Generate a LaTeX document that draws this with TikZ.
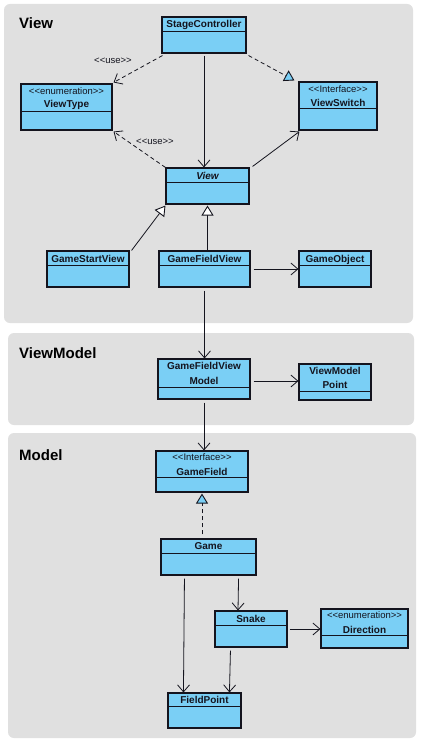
\documentclass[tikz,border=0pt]{standalone}
\usepackage{fontspec}
\setmainfont{Liberation Sans}
\usetikzlibrary{arrows.meta,fit,calc}
\definecolor{boxblue}{RGB}{122,207,245}
\definecolor{panelgray}{RGB}{224,224,224}
\definecolor{ink}{RGB}{20,20,30}
\newcommand\stl{<{}<}
\newcommand\stg{>{}>}
\newcommand\mkclass[6]{%
  \node[classbox, fit={(#2,#3) (#4,#5)}] (#1) {};
  \draw[divider] (#2,#6) -- (#4,#6);}
\tikzset{
  panel/.style={fill=panelgray, draw=none, rounded corners=6pt},
  classbox/.style={draw=ink, fill=boxblue, line width=1.1pt, inner sep=0pt},
  divider/.style={draw=ink, line width=1pt},
  cname/.style={font=\fontsize{10}{11}\selectfont\bfseries, inner sep=0pt, text=ink, text height=7pt, text depth=0pt},
  stereo/.style={font=\fontsize{9.5}{10}\selectfont, inner sep=0pt, text=ink, text height=6.5pt, text depth=0pt},
  paneltitle/.style={font=\fontsize{15}{16}\selectfont\bfseries, anchor=base west, inner sep=0pt, text=black},
  assoc/.style={draw=ink, line width=0.8pt, -{Straight Barb[length=7pt,width=12pt,line width=0.8pt]}},
  usedep/.style={assoc, dash pattern=on 4pt off 3pt},
  inherit/.style={draw=ink, line width=0.8pt, -{Triangle[open, fill=white, length=10pt, width=12pt, line width=0.9pt]}},
  realize/.style={draw=ink, line width=0.8pt, dash pattern=on 4pt off 3pt, -{Triangle[open, fill=boxblue, length=10pt, width=12pt, line width=0.9pt]}}
}
\begin{document}
\begin{tikzpicture}[x=1pt,y=-1pt]
\useasboundingbox[fill=white] (0,0) rectangle (421,746);
% panels
\path[panel] (4,4) rectangle (413,323);
\path[panel] (8,333) rectangle (414,425);
\path[panel] (8,433) rectangle (416,738);
\node[paneltitle] (tview) at (19,29) {View};
\node[paneltitle] (tvm) at (19,358) {ViewModel};
\node[paneltitle] (tmodel) at (19,460) {Model};
% classes
\mkclass{sc}{162}{17}{246}{53}{32}
\node[cname] (scN) at (204,24.5) {StageController};
\mkclass{vt}{21}{84}{112}{130}{112}
\node[stereo] (vtS) at (66.5,91) {\stl enumeration\stg};
\node[cname] (vtN) at (66.5,104.5) {ViewType};
\mkclass{vs}{299}{82}{377}{130}{109}
\node[stereo] (vsS) at (338,89.5) {\stl Interface\stg};
\node[cname] (vsN) at (338,103) {ViewSwitch};
\mkclass{view}{166}{168}{249}{204}{182}
\node[cname] (viewN) at (207.5,175.5) {\itshape View};
\mkclass{gsv}{47}{251}{129}{287}{265}
\node[cname] (gsvN) at (88,258.5) {GameStartView};
\mkclass{gfv}{159}{251}{250}{287}{265}
\node[cname] (gfvN) at (204.5,258.5) {GameFieldView};
\mkclass{go}{299}{251}{371}{287}{265}
\node[cname] (goN) at (335,258.5) {GameObject};
\mkclass{gfvm}{158}{359}{250}{399}{387}
\node[cname] (gfvmA) at (204,366.3) {GameFieldView};
\node[cname] (gfvmB) at (204,380.5) {Model};
\mkclass{vmp}{299}{364}{371}{400}{391}
\node[cname] (vmpA) at (335,371.3) {ViewModel};
\node[cname] (vmpB) at (335,385.3) {Point};
\mkclass{gf}{156}{451}{248}{492}{477}
\node[stereo] (gfS) at (202,457.3) {\stl Interface\stg};
\node[cname] (gfN) at (202,471.5) {GameField};
\mkclass{game}{161}{539}{256}{575}{553}
\node[cname] (gameN) at (208.5,546.3) {Game};
\mkclass{snake}{215}{611}{287}{647}{625}
\node[cname] (snakeN) at (251,618.7) {Snake};
\mkclass{dir}{321}{609}{408}{648}{635}
\node[stereo] (dirS) at (364.5,615.5) {\stl enumeration\stg};
\node[cname] (dirN) at (364.5,629.5) {Direction};
\mkclass{fp}{168}{693}{241}{728}{706}
\node[cname] (fpN) at (204.5,699.5) {FieldPoint};
% connectors
\draw[usedep] ([xshift=1pt,yshift=-2pt]sc.south west) -- ([xshift=1pt,yshift=1pt]vt.north east);
\node[stereo] (use1) at (113,60) {\stl use\stg};
\draw[realize] ([xshift=2pt,yshift=-2pt]sc.south east) -- ([xshift=-4pt,yshift=1pt]vs.north west);
\draw[assoc] ([yshift=-2pt]sc.south) -- (sc.south |- view.north);
\draw[usedep] (view.north west) -- ([xshift=1pt,yshift=-1pt]vt.south east);
\node[stereo] (use2) at (155,141) {\stl use\stg};
\draw[assoc] ([xshift=3pt,yshift=1pt]view.north east) -- ([xshift=1pt,yshift=-1pt]vs.south west);
\draw[inherit] ([xshift=2pt]gsv.north east) -- ([yshift=-1pt]view.south west);
\draw[inherit] (gfv.north -| view.south) -- ([yshift=-1pt]view.south);
\draw[assoc] ([xshift=3pt]gfv.east) -- (go.west);
\draw[assoc] ([yshift=-3pt]gfv.south) -- (gfv.south |- gfvm.north);
\draw[assoc] ([xshift=3pt,yshift=-2pt]gfvm.east) -- ([yshift=-2pt]gfvm.east -| vmp.west);
\draw[assoc] ([yshift=-3pt]gfvm.south) -- (gfvm.south |- gf.north);
\draw[realize] ([yshift=4pt]gf.south |- game.north) -- ([yshift=-1pt]gf.south);
\draw[assoc] ([xshift=24pt,yshift=-3pt]game.south west) -- ([xshift=16pt]fp.north west);
\draw[assoc] ([xshift=-18pt,yshift=-3pt]game.south east) -- ([xshift=-13pt]snake.north);
\draw[assoc] ([xshift=2pt]snake.east) -- (snake.east -| dir.west);
\draw[assoc] ([xshift=16pt,yshift=-3pt]snake.south west) -- ([xshift=62pt]fp.north west);
\end{tikzpicture}
\end{document}
